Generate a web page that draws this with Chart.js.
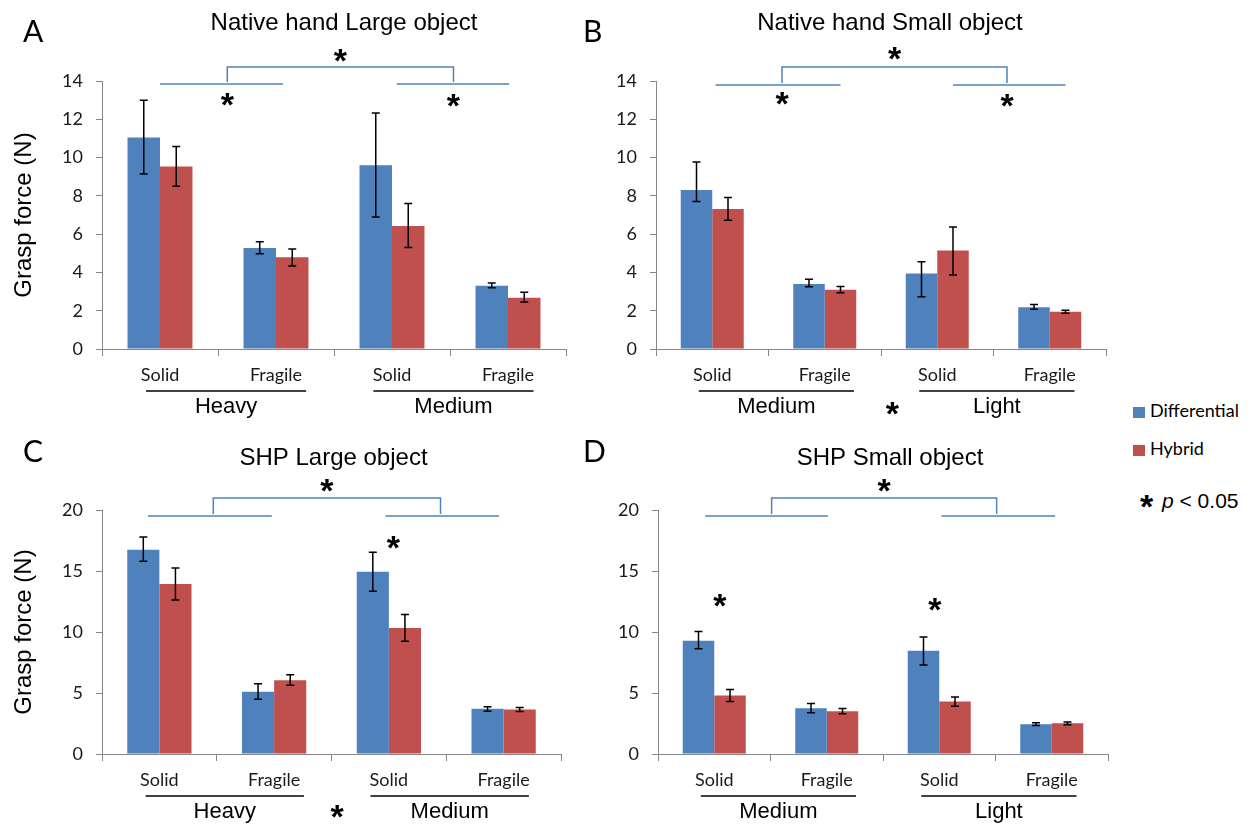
<!DOCTYPE html>
<html>
<head>
<meta charset="utf-8">
<script src="https://cdn.jsdelivr.net/npm/chart.js@4.4.0/dist/chart.umd.min.js"></script>
<style>
body { margin: 0; background: #fff; width: 1251px; height: 825px; position: relative; overflow: hidden; }
canvas { position: absolute; }
.lg { position: absolute; white-space: nowrap; color: #000; }
.sw { position: absolute; width: 12px; height: 11px; }
</style>
</head>
<body>
<canvas id="chartA" width="580" height="430" style="left:0;top:0"></canvas>
<canvas id="chartB" width="560" height="430" style="left:560px;top:0"></canvas>
<canvas id="chartC" width="580" height="405" style="left:0;top:420px"></canvas>
<canvas id="chartD" width="560" height="405" style="left:560px;top:420px"></canvas>

<div class="sw" style="left:1133px;top:407px;background:#4F81BD"></div>
<div class="lg" style="left:1150px;top:401px;font:18px/18px Lato">Differential</div>
<div class="sw" style="left:1133px;top:445px;background:#C0504D"></div>
<div class="lg" style="left:1150px;top:439px;font:18px/18px Lato">Hybrid</div>
<div class="lg" style="left:1140px;top:489px;font:bold 34px/34px 'Liberation Sans'">*</div>
<div class="lg" style="left:1162px;top:490px;font:21px/21px 'Liberation Sans'"><i>p</i> &lt; 0.05</div>

<script>
// categories and ticks
var categories = ['Solid', 'Fragile', 'Solid', 'Fragile'];
var seriesNames = ['Differential', 'Hybrid'];
var groupsLarge = ['Heavy', 'Medium'];
var groupsSmall = ['Medium', 'Light'];
var yTicksNative = [0, 2, 4, 6, 8, 10, 12, 14];
var yTicksSHP = [0, 5, 10, 15, 20];

// A: native hand, large object
var nhLargeDiff = [11.05, 5.27, 9.6, 3.31];
var nhLargeDiffHigh = [13.0, 5.6, 12.33, 3.45];
var nhLargeDiffLow = [9.14, 4.98, 6.9, 3.2];
var nhLargeHyb = [9.54, 4.79, 6.43, 2.68];
var nhLargeHybHigh = [10.58, 5.22, 7.6, 2.96];
var nhLargeHybLow = [8.5, 4.34, 5.3, 2.46];

// B: native hand, small object
var nhSmallDiff = [8.3, 3.4, 3.95, 2.18];
var nhSmallDiffHigh = [9.77, 3.64, 4.56, 2.33];
var nhSmallDiffLow = [7.7, 3.25, 2.73, 2.08];
var nhSmallHyb = [7.31, 3.1, 5.14, 1.95];
var nhSmallHybHigh = [7.92, 3.26, 6.37, 2.03];
var nhSmallHybLow = [6.72, 2.94, 3.87, 1.87];

// C: SHP, large object
var shpLargeDiff = [16.75, 5.1, 14.94, 3.7];
var shpLargeDiffHigh = [17.79, 5.75, 16.53, 3.88];
var shpLargeDiffLow = [15.79, 4.49, 13.33, 3.5];
var shpLargeHyb = [13.93, 6.05, 10.32, 3.65];
var shpLargeHybHigh = [15.24, 6.49, 11.44, 3.82];
var shpLargeHybLow = [12.62, 5.64, 9.25, 3.48];

// D: SHP, small object
var shpSmallDiff = [9.28, 3.75, 8.46, 2.44];
var shpSmallDiffHigh = [10.04, 4.13, 9.6, 2.56];
var shpSmallDiffLow = [8.62, 3.39, 7.3, 2.33];
var shpSmallHyb = [4.79, 3.5, 4.3, 2.52];
var shpSmallHybHigh = [5.28, 3.72, 4.68, 2.62];
var shpSmallHybLow = [4.3, 3.3, 3.92, 2.4];

var BLUE = '#4F81BD', RED = '#C0504D', AXIS = '#868686', BRACKET = '#4F81BD';

Chart.defaults.font.family = 'Lato';
Chart.defaults.font.size = 17;
Chart.defaults.color = '#1a1a1a';
Chart.defaults.animation = false;

// annotation settings per canvas (category units on x, px offsets on y)
var decorCfg = {
	chartA: { letter: 'A', title: 'Native hand Large object', titleDx: 10, titleY: 30, groups: groupsLarge,
		segs: [[0, 1.06], [2.04, 3.01]], legs: [0.58, 2.53], segDy: 3, topDy: -14, starDy: -29, subStars: [15, 16.5] },
	chartB: { letter: 'B', title: 'Native hand Small object', titleDx: 9, titleY: 30, groups: groupsSmall,
		segs: [[0.03, 1.14], [2.14, 3.14]], legs: [0.62, 2.62], segDy: 4, topDy: -14, starDy: -31, subStars: [14, 16],
		midStar: { x: 1.6, dy: 56 } },
	chartC: { letter: 'C', title: 'SHP Large object', titleDx: 2, titleY: 45, groups: groupsLarge,
		segs: [[-0.1, 0.98], [1.97, 2.96]], legs: [0.47, 2.45], segDy: 6, topDy: -12, starDy: -28,
		midStar: { x: 1.55, dy: 54 }, dataStars: [[2.04, 17.6]] },
	chartD: { letter: 'D', title: 'SHP Small object', titleDx: 7, titleY: 45, groups: groupsSmall,
		segs: [[-0.08, 1.01], [2.02, 3.03]], legs: [0.51, 2.51], segDy: 6, topDy: -12, starDy: -28,
		dataStars: [[0.05, 12.8], [1.96, 12.5]] }
};

function star(ctx, x, cy) {
	var size = 34;
	ctx.font = 'bold ' + size + 'px "Liberation Sans"';
	ctx.textAlign = 'center';
	ctx.textBaseline = 'alphabetic';
	ctx.fillStyle = '#000';
	ctx.fillText('*', x, cy + 0.575 * size);
}

var decor = {
	id: 'decor',
	afterDatasetsDraw: function(chart) {
		// error bars from dataset high/low values
		var ctx = chart.ctx, ys = chart.scales.y;
		ctx.save();
		ctx.strokeStyle = '#000';
		ctx.lineWidth = 1.5;
		chart.data.datasets.forEach(function(ds, i) {
			chart.getDatasetMeta(i).data.forEach(function(bar, j) {
				var hi = ys.getPixelForValue(ds.errHigh[j]);
				var lo = ys.getPixelForValue(ds.errLow[j]);
				ctx.beginPath();
				ctx.moveTo(bar.x, hi); ctx.lineTo(bar.x, lo);
				ctx.moveTo(bar.x - 4, hi); ctx.lineTo(bar.x + 4, hi);
				ctx.moveTo(bar.x - 4, lo); ctx.lineTo(bar.x + 4, lo);
				ctx.stroke();
			});
		});
		ctx.restore();
	},
	afterDraw: function(chart) {
		var c = decorCfg[chart.canvas.id];
		var ctx = chart.ctx, xs = chart.scales.x, ys = chart.scales.y, area = chart.chartArea;
		ctx.save();

		// panel letter and title
		ctx.fillStyle = '#000';
		ctx.textAlign = 'left';
		ctx.textBaseline = 'alphabetic';
		ctx.font = '30px Lato';
		ctx.fillText(c.letter, 23, 42);
		ctx.textAlign = 'center';
		ctx.font = '24px "Liberation Sans"';
		ctx.fillText(c.title, (area.left + area.right) / 2 + c.titleDx, c.titleY);

		// group labels under the category labels
		ctx.strokeStyle = '#000';
		ctx.lineWidth = 1.5;
		var spans = [[-0.12, 1.26], [1.84, 3.22]];
		ctx.font = '22px "Liberation Sans"';
		spans.forEach(function(s, k) {
			var x1 = xs.getPixelForValue(s[0]), x2 = xs.getPixelForValue(s[1]);
			ctx.beginPath();
			ctx.moveTo(x1, area.bottom + 42); ctx.lineTo(x2, area.bottom + 42);
			ctx.stroke();
			ctx.fillText(c.groups[k], (x1 + x2) / 2, area.bottom + 64);
		});

		// significance brackets
		ctx.strokeStyle = BRACKET;
		ctx.lineWidth = 1.5;
		var segY = area.top + c.segDy, topY = area.top + c.topDy;
		c.segs.forEach(function(s) {
			ctx.beginPath();
			ctx.moveTo(xs.getPixelForValue(s[0]), segY); ctx.lineTo(xs.getPixelForValue(s[1]), segY);
			ctx.stroke();
		});
		var l0 = xs.getPixelForValue(c.legs[0]), l1 = xs.getPixelForValue(c.legs[1]);
		ctx.beginPath();
		ctx.moveTo(l0, segY - 2); ctx.lineTo(l0, topY);
		ctx.lineTo(l1, topY); ctx.lineTo(l1, segY - 2);
		ctx.stroke();
		star(ctx, (l0 + l1) / 2, area.top + c.starDy);
		if (c.subStars) {
			star(ctx, l0, area.top + c.subStars[0]);
			star(ctx, l1, area.top + c.subStars[1]);
		}
		if (c.midStar) star(ctx, xs.getPixelForValue(c.midStar.x), area.bottom + c.midStar.dy);
		(c.dataStars || []).forEach(function(p) {
			star(ctx, xs.getPixelForValue(p[0]), ys.getPixelForValue(p[1]));
		});
		ctx.restore();
	}
};

function makeChart(id, diff, diffHi, diffLo, hyb, hybHi, hybLo, yTicks, yWidth, xHeight, pad, yTitle) {
	var step = yTicks[1] - yTicks[0];
	new Chart(document.getElementById(id), {
		type: 'bar',
		data: {
			labels: categories,
			datasets: [
				{ label: seriesNames[0], data: diff, errHigh: diffHi, errLow: diffLo, backgroundColor: BLUE },
				{ label: seriesNames[1], data: hyb, errHigh: hybHi, errLow: hybLo, backgroundColor: RED }
			]
		},
		options: {
			responsive: false,
			layout: { padding: pad },
			datasets: { bar: { categoryPercentage: 0.56, barPercentage: 1.0 } },
			plugins: { legend: { display: false }, tooltip: { enabled: false }, title: { display: false } },
			scales: {
				x: {
					grid: { offset: true, drawOnChartArea: false, tickLength: 7, color: AXIS },
					border: { color: AXIS, width: 1 },
					ticks: { padding: 8, font: { size: 18 }, maxRotation: 0 },
					afterFit: function(s) { s.height = xHeight; }
				},
				y: {
					min: yTicks[0], max: yTicks[yTicks.length - 1],
					grid: { drawOnChartArea: false, tickLength: 6, color: AXIS },
					border: { color: AXIS, width: 1 },
					ticks: { stepSize: step, padding: 13, font: { size: 18 } },
					title: { display: !!yTitle, text: 'Grasp force (N)', padding: { top: 10, bottom: 0 },
						font: { family: 'Liberation Sans', size: 24 }, color: '#000' },
					afterFit: function(s) { s.width = yWidth; }
				}
			}
		},
		plugins: [decor]
	});
}

makeChart('chartA', nhLargeDiff, nhLargeDiffHigh, nhLargeDiffLow, nhLargeHyb, nhLargeHybHigh, nhLargeHybLow,
	yTicksNative, 102, 81, { top: 81, right: 14, left: 0, bottom: 0 }, true);
makeChart('chartB', nhSmallDiff, nhSmallDiffHigh, nhSmallDiffLow, nhSmallHyb, nhSmallHybHigh, nhSmallHybLow,
	yTicksNative, 96, 81, { top: 81, right: 14, left: 0, bottom: 0 }, false);
makeChart('chartC', shpLargeDiff, shpLargeDiffHigh, shpLargeDiffLow, shpLargeHyb, shpLargeHybHigh, shpLargeHybLow,
	yTicksSHP, 102, 71, { top: 90, right: 19, left: 0, bottom: 0 }, true);
makeChart('chartD', shpSmallDiff, shpSmallDiffHigh, shpSmallDiffLow, shpSmallHyb, shpSmallHybHigh, shpSmallHybLow,
	yTicksSHP, 98, 71, { top: 90, right: 12, left: 0, bottom: 0 }, false);
</script>
</body>
</html>
